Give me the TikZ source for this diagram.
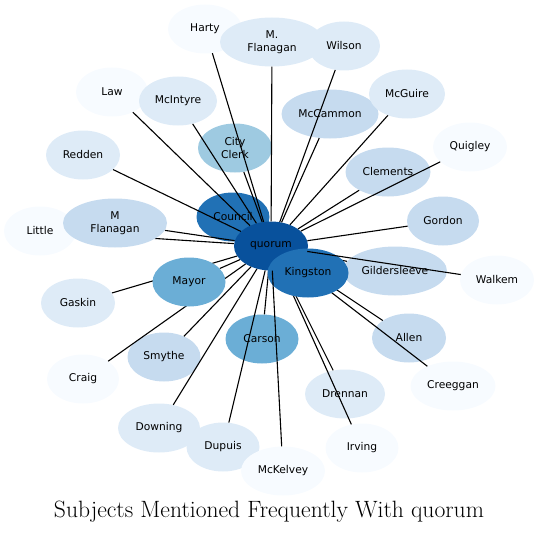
\documentclass[tikz,border=0pt]{standalone}
\usepackage{fontspec}
\newfontfamily\labelfont{DejaVu Sans}
\usetikzlibrary{shapes.geometric}
\definecolor{blueA}{HTML}{F7FBFF}
\definecolor{blueB}{HTML}{DEEBF7}
\definecolor{blueC}{HTML}{C6DBEF}
\definecolor{blueD}{HTML}{9ECAE1}
\definecolor{blueE}{HTML}{6BAED6}
\definecolor{blueF}{HTML}{2171B5}
\definecolor{blueG}{HTML}{08519C}
\pgfdeclarelayer{back}
\pgfdeclarelayer{front}
\pgfdeclarelayer{top}
\pgfsetlayers{back,main,front,top}
\tikzset{
  subj/.style={ellipse,draw=none,fill=#1,inner sep=0pt,minimum height=49pt,
    align=center,font=\labelfont\fontsize{10.7}{12.5}\selectfont},
  link/.style={draw=black,line width=1.1pt}
}

\begin{document}
\begin{tikzpicture}[x=1pt,y=-1pt]
  \useasboundingbox (0,0) rectangle (540,532);
  % outer ring, top to bottom
  \node[subj=blueA,minimum width=74pt] (harty) at (205,29) {Harty};
  \node[subj=blueB,minimum width=104pt] (mflanagandot) at (272,42) {M.\\Flanagan};
  \node[subj=blueB,minimum width=72pt] (wilson) at (344,46) {Wilson};
  \node[subj=blueA,minimum width=72pt] (law) at (112,92) {Law};
  \node[subj=blueB,minimum width=78pt] (mcintyre) at (178,101) {McIntyre};
  \node[subj=blueC,minimum width=97pt] (mccammon) at (330,114) {McCammon};
  \node[subj=blueB,minimum width=76pt] (mcguire) at (407,94) {McGuire};
  \node[subj=blueD,minimum width=74pt] (cityclerk) at (235,148) {City\\Clerk};
  \node[subj=blueA,minimum width=74pt] (quigley) at (470,147) {Quigley};
  \node[subj=blueB,minimum width=74pt] (redden) at (83,155) {Redden};
  \node[subj=blueC,minimum width=85pt] (clements) at (388,172) {Clements};
  \node[subj=blueC,minimum width=72pt] (gordon) at (443,221) {Gordon};
  \node[subj=blueA,minimum width=72pt] (little) at (40,231) {Little};
  \node[subj=blueC,minimum width=104pt] (gildersleeve) at (395,271) {Gildersleeve};
  \node[subj=blueA,minimum width=74pt] (walkem) at (497,280) {Walkem};
  \node[subj=blueB,minimum width=74pt] (gaskin) at (78,303) {Gaskin};
  \node[subj=blueE,minimum width=73pt] (carson) at (262,339) {Carson};
  \node[subj=blueC,minimum width=74pt] (allen) at (409,338) {Allen};
  \node[subj=blueC,minimum width=73pt] (smythe) at (164,357) {Smythe};
  \node[subj=blueA,minimum width=72pt] (craig) at (83,379) {Craig};
  \node[subj=blueA,minimum width=85pt] (creeggan) at (453,386) {Creeggan};
  \node[subj=blueB,minimum width=80pt] (drennan) at (345,394) {Drennan};
  \node[subj=blueB,minimum width=82pt] (downing) at (159,428) {Downing};
  \node[subj=blueB,minimum width=73pt] (dupuis) at (223,447) {Dupuis};
  \node[subj=blueA,minimum width=73pt] (irving) at (362,448) {Irving};
  \node[subj=blueA,minimum width=84pt] (mckelvey) at (283,471) {McKelvey};
  % hub and council
  \node[subj=blueF,minimum width=73pt] (council) at (233,217) {Council};
  \node[subj=blueG,minimum width=74pt] (quorum) at (271,246) {quorum};
  % subjects lying over some links
  \begin{pgfonlayer}{front}
    \node[subj=blueC,minimum width=104pt] (mflanagan) at (115,223) {M\\Flanagan};
    \node[subj=blueE,minimum width=73pt] (mayor) at (189,282) {Mayor};
    \node[subj=blueF,minimum width=81pt] (kingston) at (308,273) {Kingston};
  \end{pgfonlayer}

  % links
  \begin{pgfonlayer}{back}
    \foreach \s in {council,kingston}
      \draw[link] (quorum) -- (\s);
  \end{pgfonlayer}
  \foreach \s in {harty,mflanagandot,wilson,law,mcintyre,mccammon,mcguire,cityclerk,quigley,
    redden,clements,gordon,mflanagan,little,gildersleeve,mayor,gaskin,craig,carson,
    smythe,downing,dupuis,allen,creeggan,drennan,irving}
    \draw[link] (quorum) -- (\s);
  \begin{pgfonlayer}{top}
    \foreach \s in {walkem,mckelvey}
      \draw[link] (quorum) -- (\s);
  \end{pgfonlayer}

  \node[anchor=base,font=\fontsize{23.6}{28}\selectfont] (title) at (269,517)
    {Subjects Mentioned Frequently With quorum};
\end{tikzpicture}
\end{document}
